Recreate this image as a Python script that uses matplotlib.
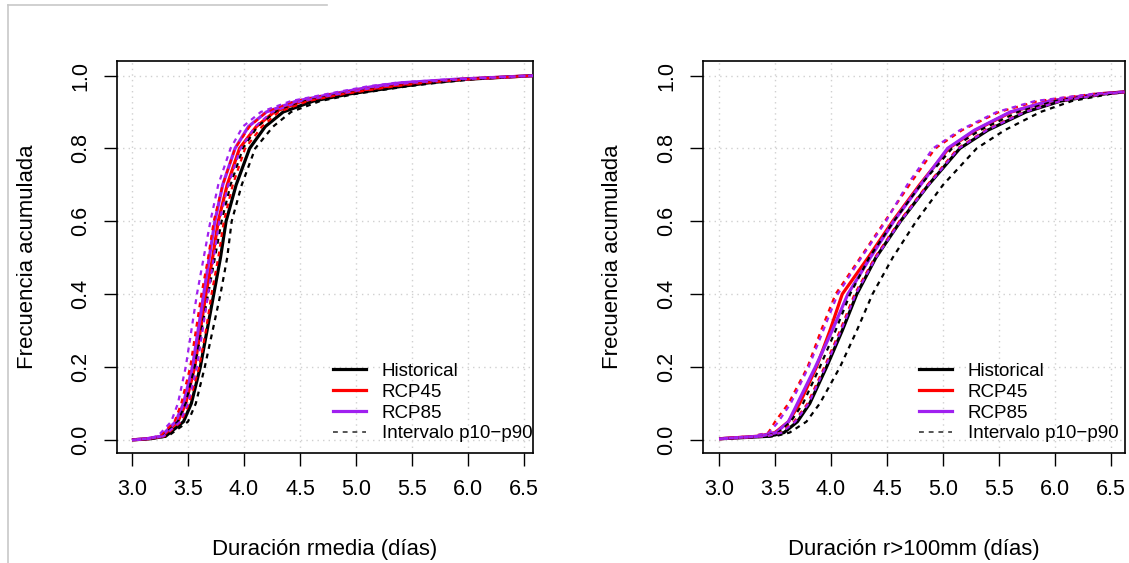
import matplotlib
matplotlib.use('Agg')
import matplotlib.pyplot as plt
from matplotlib.lines import Line2D

plt.rcParams['font.family'] = ['Liberation Sans', 'DejaVu Sans']

# ---- data (x at given cumulative-frequency levels) ----
y_left = [0.0, 0.003, 0.01, 0.05, 0.1, 0.2, 0.3, 0.4, 0.5, 0.6, 0.7, 0.8,
          0.86, 0.9, 0.93, 0.95, 0.97, 0.98, 0.99, 1.0]
hist_l    = [3.00, 3.16, 3.30, 3.46, 3.53, 3.61, 3.67, 3.73, 3.79, 3.84, 3.93, 4.05, 4.19, 4.35, 4.62, 4.95, 5.40, 5.65, 6.00, 6.60]
hist_l_lo = [3.00, 3.15, 3.27, 3.41, 3.48, 3.56, 3.62, 3.68, 3.74, 3.80, 3.88, 3.99, 4.12, 4.28, 4.55, 4.88, 5.32, 5.60, 5.95, 6.60]
hist_l_hi = [3.00, 3.17, 3.32, 3.50, 3.57, 3.65, 3.72, 3.79, 3.85, 3.89, 3.98, 4.10, 4.26, 4.42, 4.68, 5.00, 5.45, 5.72, 6.05, 6.60]
r45_l     = [3.00, 3.14, 3.27, 3.41, 3.48, 3.56, 3.61, 3.66, 3.72, 3.77, 3.85, 3.96, 4.11, 4.27, 4.52, 4.85, 5.28, 5.55, 5.95, 6.60]
r45_l_lo  = [3.00, 3.13, 3.25, 3.38, 3.44, 3.52, 3.57, 3.62, 3.68, 3.73, 3.81, 3.92, 4.05, 4.20, 4.46, 4.80, 5.22, 5.50, 5.90, 6.60]
r45_l_hi  = [3.00, 3.15, 3.29, 3.44, 3.51, 3.60, 3.66, 3.71, 3.77, 3.82, 3.90, 4.01, 4.16, 4.31, 4.57, 4.90, 5.33, 5.60, 6.00, 6.60]
r85_l     = [3.00, 3.13, 3.26, 3.39, 3.46, 3.54, 3.59, 3.64, 3.69, 3.74, 3.81, 3.92, 4.04, 4.20, 4.47, 4.80, 5.15, 5.40, 5.90, 6.60]
r85_l_lo  = [3.00, 3.12, 3.23, 3.35, 3.41, 3.48, 3.53, 3.58, 3.64, 3.70, 3.77, 3.88, 3.99, 4.15, 4.42, 4.75, 5.10, 5.35, 5.85, 6.60]
r85_l_hi  = [3.00, 3.14, 3.28, 3.43, 3.50, 3.58, 3.63, 3.68, 3.73, 3.78, 3.86, 3.97, 4.10, 4.25, 4.51, 4.85, 5.22, 5.48, 5.95, 6.60]

y_right = [0.003, 0.006, 0.01, 0.02, 0.05, 0.1, 0.2, 0.3, 0.4, 0.5, 0.6, 0.7,
           0.8, 0.85, 0.9, 0.93, 0.95, 0.955]
hist_r    = [3.00, 3.20, 3.45, 3.58, 3.70, 3.81, 3.96, 4.10, 4.23, 4.40, 4.62, 4.87, 5.15, 5.40, 5.74, 6.05, 6.45, 6.62]
hist_r_lo = [3.00, 3.18, 3.40, 3.53, 3.64, 3.75, 3.90, 4.04, 4.17, 4.34, 4.56, 4.80, 5.08, 5.33, 5.67, 6.00, 6.40, 6.62]
hist_r_hi = [3.00, 3.22, 3.50, 3.63, 3.78, 3.90, 4.08, 4.23, 4.37, 4.55, 4.76, 5.00, 5.30, 5.55, 5.87, 6.15, 6.50, 6.62]
r45_r     = [3.00, 3.15, 3.35, 3.50, 3.62, 3.72, 3.87, 3.99, 4.10, 4.33, 4.55, 4.79, 5.05, 5.29, 5.61, 5.95, 6.40, 6.62]
r45_r_lo  = [3.00, 3.12, 3.30, 3.44, 3.50, 3.62, 3.79, 3.91, 4.04, 4.26, 4.48, 4.70, 4.93, 5.17, 5.50, 5.85, 6.35, 6.62]
r45_r_hi  = [3.00, 3.18, 3.42, 3.55, 3.67, 3.79, 3.94, 4.08, 4.21, 4.39, 4.61, 4.86, 5.13, 5.38, 5.72, 6.05, 6.45, 6.62]
r85_r     = [3.00, 3.16, 3.36, 3.51, 3.62, 3.70, 3.86, 4.01, 4.15, 4.35, 4.56, 4.80, 5.04, 5.28, 5.60, 5.95, 6.40, 6.62]
r85_r_lo  = [3.00, 3.12, 3.30, 3.45, 3.53, 3.64, 3.80, 3.93, 4.06, 4.27, 4.49, 4.68, 4.91, 5.15, 5.48, 5.82, 6.35, 6.62]
r85_r_hi  = [3.00, 3.18, 3.42, 3.56, 3.68, 3.80, 3.95, 4.09, 4.22, 4.40, 4.62, 4.87, 5.14, 5.39, 5.73, 6.05, 6.45, 6.62]

x_ticks = [3.0, 3.5, 4.0, 4.5, 5.0, 5.5, 6.0, 6.5]
y_ticks = [0.0, 0.2, 0.4, 0.6, 0.8, 1.0]
scenarios = ['Historical', 'RCP45', 'RCP85']
band_label = 'Intervalo p10\u2212p90'
colors = ['black', '#ff0000', '#a020f0']

fig = plt.figure(figsize=(11.29, 5.63), dpi=100)
ax1 = fig.add_axes([0.1036, 0.1954, 0.3685, 0.6963])
ax2 = fig.add_axes([0.6227, 0.1954, 0.3738, 0.6963])

# thin grey frame remnant at top-left of the screenshot
fig.add_artist(Line2D([8 / 1129, 327 / 1129], [1 - 5 / 563, 1 - 5 / 563],
                      color='#c8c8c8', lw=1.2, transform=fig.transFigure))
fig.add_artist(Line2D([8 / 1129, 8 / 1129], [0, 1 - 5 / 563],
                      color='#c8c8c8', lw=1.2, transform=fig.transFigure))

panels = [
    (ax1, y_left, [hist_l, r45_l, r85_l], [(hist_l_lo, hist_l_hi), (r45_l_lo, r45_l_hi), (r85_l_lo, r85_l_hi)],
     (2.866, 6.580), 'Duración rmedia (días)', 0.519),
    (ax2, y_right, [hist_r, r45_r, r85_r], [(hist_r_lo, hist_r_hi), (r45_r_lo, r45_r_hi), (r85_r_lo, r85_r_hi)],
     (2.857, 6.625), 'Duración r>100mm (días)', 0.512),
]

for ax, ys, mains, bands, xlim, xlabel, leg_x in panels:
    for xs, c in zip(mains, colors):
        ax.plot(xs, ys, color=c, lw=2.3, solid_capstyle='butt', zorder=3)
    for (lo, hi), c in zip(bands, colors):
        ax.plot(lo, ys, color=c, lw=1.6, dashes=(2.2, 2.2), zorder=3)
        ax.plot(hi, ys, color=c, lw=1.6, dashes=(2.2, 2.2), zorder=3)

    ax.set_xlim(*xlim)
    ax.set_ylim(-0.036, 1.04)
    ax.set_xticks(x_ticks)
    ax.set_xticklabels([f'{v:.1f}' for v in x_ticks])
    ax.set_yticks(y_ticks)
    ax.set_yticklabels([f'{v:.1f}' for v in y_ticks], rotation=90, va='center')
    ax.grid(True, color='#d0d0d0', lw=1.0, linestyle=(0, (1, 3)))
    ax.set_axisbelow(True)
    ax.tick_params(direction='out', length=9.5, width=1.0, labelsize=15.5, pad=9)
    for sp in ax.spines.values():
        sp.set_linewidth(1.2)

    ax.set_xlabel(xlabel, fontsize=15.9)
    ax.xaxis.set_label_coords(0.5, -0.22)
    ax.set_ylabel('Frecuencia acumulada', fontsize=15.9)
    ax.yaxis.set_label_coords(-0.19, 0.5)

    handles = [Line2D([], [], color=c, lw=2.3) for c in colors]
    handles.append(Line2D([], [], color='#555555', lw=1.4, dashes=(2.5, 2.5)))
    ax.legend(handles, scenarios + [band_label], loc='lower left',
              bbox_to_anchor=(leg_x, 0.027), frameon=False, fontsize=13.5,
              handlelength=1.75, handletextpad=0.85, labelspacing=0.2,
              borderpad=0, borderaxespad=0)

fig.savefig('out.png', dpi=100, facecolor='white')
